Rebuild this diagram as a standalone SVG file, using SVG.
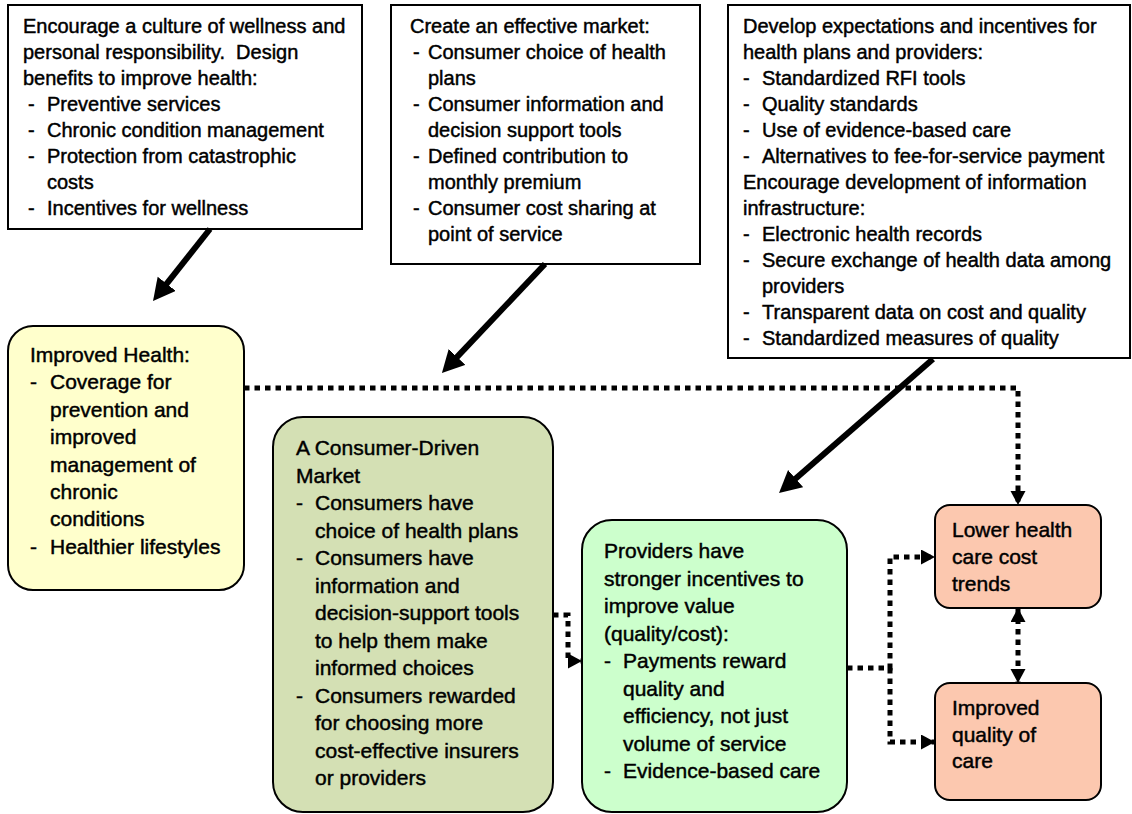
<svg xmlns="http://www.w3.org/2000/svg" width="1132" height="814" viewBox="0 0 1132 814">
<style>
text{font-family:"Liberation Sans",Arial,sans-serif;fill:#000;stroke:#000;stroke-width:0.45}
.t20{font-size:20px}
.t21{font-size:21px}
.box{fill:#fff;stroke:#000;stroke-width:2}
.rbox{stroke:#000;stroke-width:2}
.dot{fill:none;stroke:#000;stroke-width:5;stroke-dasharray:5.5 5}
.thick{fill:none;stroke:#000;stroke-width:6}
</style>
<defs>
<marker id="dh" markerUnits="userSpaceOnUse" markerWidth="16" markerHeight="16" refX="14" refY="7.5" orient="auto-start-reverse" viewBox="0 0 16 16">
<path d="M0,0 L14,7.5 L0,15 z" fill="#000"/>
</marker>
<marker id="th" markerUnits="userSpaceOnUse" markerWidth="24" markerHeight="24" refX="4" refY="11.5" orient="auto" viewBox="0 0 24 24">
<path d="M0,0 L22,11.5 L0,23 z" fill="#000"/>
</marker>
</defs>

<g id="box-wellness">
<rect class="box" x="8" y="5" width="354" height="224"/>
<text class="t20">
<tspan x="23" y="33">Encourage a culture of wellness and</tspan>
<tspan x="23" y="59">personal responsibility.&#160; Design</tspan>
<tspan x="23" y="85">benefits to improve health:</tspan>
<tspan x="28" y="111">-</tspan><tspan x="47" y="111">Preventive services</tspan>
<tspan x="28" y="137">-</tspan><tspan x="47" y="137">Chronic condition management</tspan>
<tspan x="28" y="163">-</tspan><tspan x="47" y="163">Protection from catastrophic</tspan>
<tspan x="47" y="189">costs</tspan>
<tspan x="28" y="215">-</tspan><tspan x="47" y="215">Incentives for wellness</tspan>
</text>
</g>

<g id="box-market">
<rect class="box" x="391" y="5" width="309" height="259"/>
<text class="t20">
<tspan x="410" y="33">Create an effective market:</tspan>
<tspan x="413" y="59">-</tspan><tspan x="428" y="59">Consumer choice of health</tspan>
<tspan x="428" y="85">plans</tspan>
<tspan x="413" y="111">-</tspan><tspan x="428" y="111">Consumer information and</tspan>
<tspan x="428" y="137">decision support tools</tspan>
<tspan x="413" y="163">-</tspan><tspan x="428" y="163">Defined contribution to</tspan>
<tspan x="428" y="189">monthly premium</tspan>
<tspan x="413" y="215">-</tspan><tspan x="428" y="215">Consumer cost sharing at</tspan>
<tspan x="428" y="241">point of service</tspan>
</text>
</g>

<g id="box-expectations">
<rect class="box" x="728" y="5" width="402" height="353"/>
<text class="t20">
<tspan x="743" y="33">Develop expectations and incentives for</tspan>
<tspan x="743" y="59">health plans and providers:</tspan>
<tspan x="743" y="85">-</tspan><tspan x="762" y="85">Standardized RFI tools</tspan>
<tspan x="743" y="111">-</tspan><tspan x="762" y="111">Quality standards</tspan>
<tspan x="743" y="137">-</tspan><tspan x="762" y="137">Use of evidence-based care</tspan>
<tspan x="743" y="163">-</tspan><tspan x="762" y="163">Alternatives to fee-for-service payment</tspan>
<tspan x="743" y="189">Encourage development of information</tspan>
<tspan x="743" y="215">infrastructure:</tspan>
<tspan x="743" y="241">-</tspan><tspan x="762" y="241">Electronic health records</tspan>
<tspan x="743" y="267">-</tspan><tspan x="762" y="267">Secure exchange of health data among</tspan>
<tspan x="762" y="293">providers</tspan>
<tspan x="743" y="319">-</tspan><tspan x="762" y="319">Transparent data on cost and quality</tspan>
<tspan x="743" y="345">-</tspan><tspan x="762" y="345">Standardized measures of quality</tspan>
</text>
</g>

<g id="connectors">
<path class="dot" d="M244,388 H1018 V505" marker-end="url(#dh)"/>
<path class="dot" d="M553,615 H568 V661 H582" marker-end="url(#dh)"/>
<path class="dot" d="M847,668 H890 V557 H935" marker-end="url(#dh)"/>
<path class="dot" d="M890,668 V742 H935" marker-end="url(#dh)"/>
<path class="dot" d="M1018,608 V683" marker-start="url(#dh)" marker-end="url(#dh)"/>
<line class="thick" x1="210" y1="229" x2="164.2" y2="286.9" marker-end="url(#th)"/>
<line class="thick" x1="545" y1="264" x2="454.3" y2="359.9" marker-end="url(#th)"/>
<line class="thick" x1="933" y1="359" x2="792.6" y2="481.2" marker-end="url(#th)"/>
</g>

<g id="node-improved-health">
<rect class="rbox" x="8" y="326" width="236" height="264" rx="25" fill="#FFFFCC"/>
<text class="t21">
<tspan x="30" y="362">Improved Health:</tspan>
<tspan x="30" y="389">-</tspan><tspan x="50" y="389">Coverage for</tspan>
<tspan x="50" y="416.5">prevention and</tspan>
<tspan x="50" y="444">improved</tspan>
<tspan x="50" y="471.5">management of</tspan>
<tspan x="50" y="499">chronic</tspan>
<tspan x="50" y="526">conditions</tspan>
<tspan x="30" y="553.5">-</tspan><tspan x="50" y="553.5">Healthier lifestyles</tspan>
</text>
</g>

<g id="node-consumer-market">
<rect class="rbox" x="273" y="417" width="280" height="395" rx="30" fill="#D4E0B4"/>
<text class="t21">
<tspan x="296" y="455">A Consumer-Driven</tspan>
<tspan x="296" y="482.5">Market</tspan>
<tspan x="296" y="510">-</tspan><tspan x="315" y="510">Consumers have</tspan>
<tspan x="315" y="537.5">choice of health plans</tspan>
<tspan x="296" y="565">-</tspan><tspan x="315" y="565">Consumers have</tspan>
<tspan x="315" y="592.5">information and</tspan>
<tspan x="315" y="620">decision-support tools</tspan>
<tspan x="315" y="647.5">to help them make</tspan>
<tspan x="315" y="675">informed choices</tspan>
<tspan x="296" y="702.5">-</tspan><tspan x="315" y="702.5">Consumers rewarded</tspan>
<tspan x="315" y="730">for choosing more</tspan>
<tspan x="315" y="757.5">cost-effective insurers</tspan>
<tspan x="315" y="785">or providers</tspan>
</text>
</g>

<g id="node-providers">
<rect class="rbox" x="582" y="520" width="265" height="292" rx="30" fill="#CCFFCC"/>
<text class="t21">
<tspan x="604" y="558">Providers have</tspan>
<tspan x="604" y="585.5">stronger incentives to</tspan>
<tspan x="604" y="613">improve value</tspan>
<tspan x="604" y="640.5">(quality/cost):</tspan>
<tspan x="604" y="668">-</tspan><tspan x="623" y="668">Payments reward</tspan>
<tspan x="623" y="695.5">quality and</tspan>
<tspan x="623" y="723">efficiency, not just</tspan>
<tspan x="623" y="750.5">volume of service</tspan>
<tspan x="604" y="778">-</tspan><tspan x="623" y="778">Evidence-based care</tspan>
</text>
</g>

<g id="node-lower-cost">
<rect class="rbox" x="935" y="505" width="166" height="103" rx="15" fill="#FCC8AF"/>
<text class="t21">
<tspan x="952" y="537">Lower health</tspan>
<tspan x="952" y="564">care cost</tspan>
<tspan x="952" y="591">trends</tspan>
</text>
</g>

<g id="node-quality">
<rect class="rbox" x="935" y="683" width="166" height="117" rx="15" fill="#FCC8AF"/>
<text class="t21">
<tspan x="952" y="715">Improved</tspan>
<tspan x="952" y="742">quality of</tspan>
<tspan x="952" y="768">care</tspan>
</text>
</g>
</svg>
